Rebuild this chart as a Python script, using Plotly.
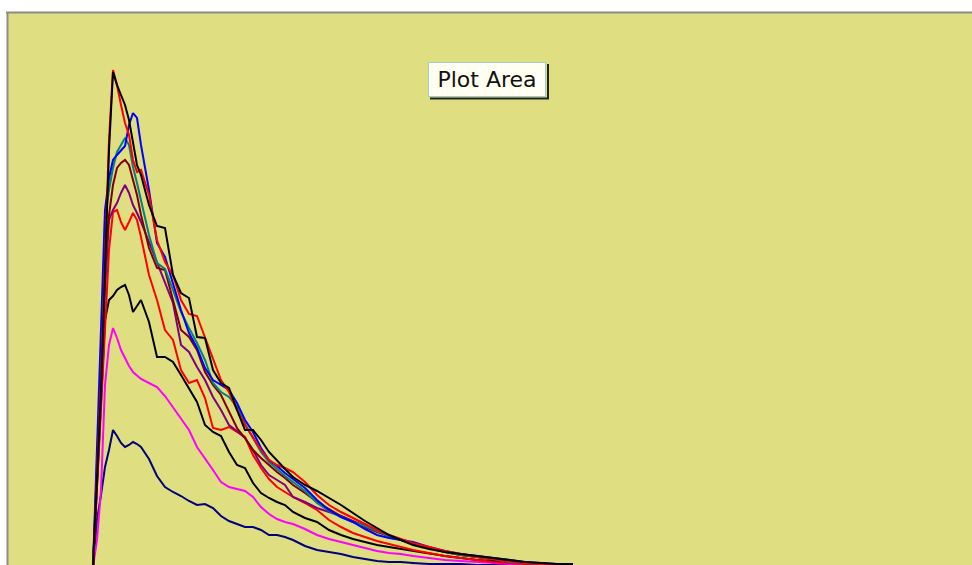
import plotly.graph_objects as go

# Sample positions (shared x axis)
x = [0, 1, 2, 3, 4, 5, 6, 7, 8, 9, 10, 11, 12,
     14, 16, 18, 20, 22, 24, 26, 28, 30, 32, 34, 36, 38, 40, 42, 44, 46, 48, 50,
     53, 56, 59, 62, 65, 68, 71, 74, 77, 80,
     84, 88, 92, 96, 100, 104, 108, 112, 116, 120]

black_a = [0, 87, 177, 297, 417, 495, 482, 472, 462, 447, 424, 402, 392,
           362, 341, 339, 292, 274, 269, 230, 229, 197, 184, 179, 157, 137, 137, 127, 115, 106, 98, 90,
           82, 76, 69, 62, 54, 46, 39, 32, 27, 22,
           18, 15, 13, 11, 9, 7, 5, 4, 3, 3]
red_a = [0, 97, 187, 307, 427, 497, 482, 462, 444, 432, 407, 395, 397,
         372, 327, 305, 292, 267, 253, 251, 230, 207, 187, 175, 157, 142, 130, 117, 107, 102, 99, 95,
         85, 72, 62, 55, 49, 43, 37, 32, 28, 24,
         20, 16, 13, 10, 8, 6, 4, 3, 2, 2]
blue = [0, 117, 247, 357, 389, 407, 412, 417, 421, 442, 454, 449, 422,
        377, 324, 310, 284, 257, 234, 219, 199, 187, 182, 177, 164, 147, 135, 119, 107, 101, 94, 88,
        79, 67, 57, 50, 45, 38, 32, 29, 27, 25,
        20, 16, 13, 11, 9, 7, 5, 4, 3, 2]
teal = [0, 97, 207, 347, 377, 399, 415, 422, 429, 422, 400, 384, 367,
        332, 304, 298, 277, 255, 239, 224, 207, 184, 175, 170, 160, 143, 129, 115, 105, 98, 91, 85,
        76, 64, 56, 50, 45, 41, 36, 31, 27, 23,
        19, 15, 12, 10, 8, 5, 4, 3, 2, 2]
maroon = [0, 87, 187, 307, 352, 382, 399, 404, 407, 402, 387, 372, 352,
          319, 299, 297, 267, 237, 230, 217, 195, 182, 172, 155, 139, 129, 117, 109, 102, 95, 89, 82,
          74, 65, 58, 51, 45, 40, 35, 31, 27, 23,
          19, 15, 12, 10, 8, 6, 4, 3, 2, 2]
purple = [0, 77, 167, 277, 347, 357, 364, 374, 382, 374, 362, 354, 345,
          325, 305, 284, 264, 222, 215, 200, 187, 170, 157, 142, 136, 129, 117, 102, 92, 87, 82, 70,
          65, 59, 55, 51, 46, 41, 36, 31, 27, 23,
          19, 15, 12, 10, 8, 5, 4, 3, 2, 2]
red_b = [0, 77, 157, 237, 317, 355, 357, 345, 337, 345, 354, 347, 330,
         292, 267, 237, 227, 197, 184, 187, 169, 139, 137, 140, 135, 130, 112, 99, 88, 80, 75, 70,
         64, 57, 47, 40, 34, 30, 26, 23, 20, 17,
         14, 11, 9, 7, 5, 4, 3, 2, 2, 2]
black_c = [0, 87, 167, 247, 267, 271, 277, 280, 282, 272, 255, 261, 267,
           245, 210, 210, 205, 192, 179, 165, 142, 135, 131, 115, 102, 99, 84, 74, 69, 65, 62, 55,
           49, 45, 37, 32, 28, 25, 22, 20, 18, 16,
           14, 11, 9, 7, 6, 5, 4, 3, 3, 2]
magenta = [0, 27, 77, 182, 222, 239, 229, 217, 209, 201, 195, 191, 188,
           184, 180, 171, 160, 148, 137, 120, 109, 97, 85, 80, 78, 76, 70, 60, 53, 48, 45, 43,
           38, 32, 28, 25, 22, 19, 16, 14, 13, 11,
           9, 7, 6, 5, 4, 3, 2, 2, 2, 2]
navy = [0, 47, 72, 100, 117, 137, 131, 124, 120, 122, 125, 123, 120,
        108, 91, 80, 75, 71, 66, 62, 63, 59, 51, 46, 43, 40, 40, 37, 32, 32, 30, 27,
        21, 17, 15, 13, 10, 8, 6, 5, 5, 4,
        3, 3, 3, 2, 2, 2, 2, 2, 2, 2]

series = [
    ("navy", navy, "#000080"),
    ("magenta", magenta, "#FF00FF"),
    ("black_c", black_c, "#000000"),
    ("red_b", red_b, "#FF0000"),
    ("purple", purple, "#800080"),
    ("maroon", maroon, "#800000"),
    ("teal", teal, "#008080"),
    ("blue", blue, "#0000FF"),
    ("red_a", red_a, "#FF0000"),
    ("black_a", black_a, "#000000"),
]

fig = go.Figure()
for name, ys, col in series:
    fig.add_trace(go.Scatter(x=x, y=ys, mode="lines", name=name,
                             line=dict(color=col, width=2), hoverinfo="skip"))

W, H = 972, 565
L, T = 8, 13


def px_x(p):
    return (p - L) / (W - L)


def px_y(p):
    return (H - p) / (H - T)


fig.update_layout(
    width=W, height=H,
    margin=dict(l=L, r=0, t=T, b=0, pad=0),
    paper_bgcolor="white",
    plot_bgcolor="#DFDE80",
    showlegend=False,
    hovermode=False,
    xaxis=dict(range=[-21.25, 219.75], showgrid=False, zeroline=False,
               showticklabels=False, ticks="", showline=False, fixedrange=True),
    yaxis=dict(range=[2, 554], showgrid=False, zeroline=False,
               showticklabels=False, ticks="", showline=False, fixedrange=True),
    shapes=[
        dict(type="line", xref="paper", yref="paper", x0=px_x(6), x1=1.0,
             y0=px_y(12.5), y1=px_y(12.5), line=dict(color="#8C8C8C", width=2), layer="above"),
        dict(type="line", xref="paper", yref="paper", x0=px_x(7.5), x1=px_x(7.5),
             y0=0, y1=px_y(12), line=dict(color="#8C8C8C", width=2), layer="above"),
        # tooltip shadow
        dict(type="line", xref="paper", yref="paper", x0=px_x(548), x1=px_x(548),
             y0=px_y(64), y1=px_y(99), line=dict(color="#222222", width=2), layer="above"),
        dict(type="line", xref="paper", yref="paper", x0=px_x(430), x1=px_x(549),
             y0=px_y(98.5), y1=px_y(98.5), line=dict(color="#222222", width=2), layer="above"),
    ],
    annotations=[
        dict(text="Plot Area", xref="paper", yref="paper",
             x=px_x(487), y=px_y(80), xanchor="center", yanchor="middle",
             showarrow=False, font=dict(family="DejaVu Sans", size=22, color="#111111"),
             bgcolor="#FFFFF2", bordercolor="#9FCFC8", borderwidth=1, borderpad=2,
             width=112, height=29, align="center"),
    ],
)

fig.write_html(
    "out.html",
    config=dict(displayModeBar=False, staticPlot=True),
    post_script="document.body.style.margin='0';"
                "document.documentElement.style.overflow='hidden';"
                "document.body.style.overflow='hidden';",
)
